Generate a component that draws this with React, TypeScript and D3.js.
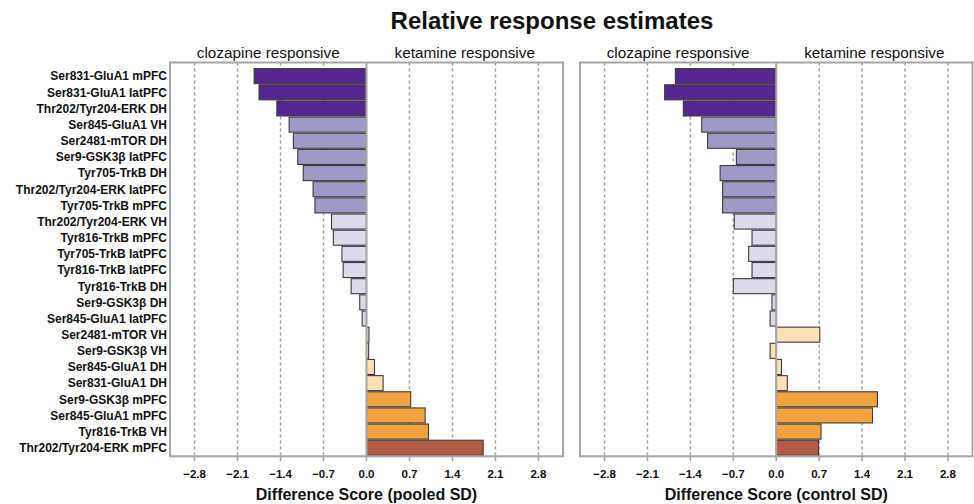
import React from "react";
import * as d3 from "d3";

const W = 974, H = 504;

const LABELS = [
  "Ser831-GluA1 mPFC", "Ser831-GluA1 latPFC", "Thr202/Tyr204-ERK DH", "Ser845-GluA1 VH",
  "Ser2481-mTOR DH", "Ser9-GSK3β latPFC", "Tyr705-TrkB DH", "Thr202/Tyr204-ERK latPFC",
  "Tyr705-TrkB mPFC", "Thr202/Tyr204-ERK VH", "Tyr816-TrkB mPFC", "Tyr705-TrkB latPFC",
  "Tyr816-TrkB latPFC", "Tyr816-TrkB DH", "Ser9-GSK3β DH", "Ser845-GluA1 latPFC",
  "Ser2481-mTOR VH", "Ser9-GSK3β VH", "Ser845-GluA1 DH", "Ser831-GluA1 DH",
  "Ser9-GSK3β mPFC", "Ser845-GluA1 mPFC", "Tyr816-TrkB VH", "Thr202/Tyr204-ERK mPFC",
];

// colour group per row (0 = strong clozapine ... 5 = strong ketamine)
const GROUPS = [0, 0, 0, 1, 1, 1, 1, 1, 1, 2, 2, 2, 2, 2, 2, 2, 3, 3, 3, 3, 4, 4, 4, 5];

const POOLED = [
  -1.83, -1.75, -1.46, -1.26, -1.19, -1.12, -1.03, -0.87, -0.84, -0.57, -0.54, -0.40,
  -0.38, -0.25, -0.11, -0.07, 0.04, 0.035, 0.13, 0.27, 0.72, 0.955, 1.01, 1.90,
];

const CONTROL = [
  -1.645, -1.82, -1.515, -1.215, -1.12, -0.65, -0.915, -0.875, -0.875, -0.685, -0.395, -0.45,
  -0.395, -0.70, -0.07, -0.10, 0.71, -0.10, 0.085, 0.18, 1.65, 1.57, 0.73, 0.69,
];

const TICKS = [-2.8, -2.1, -1.4, -0.7, 0.0, 0.7, 1.4, 2.1, 2.8];

const COLORS = ["#54278f", "#9e9ac8", "#dadaeb", "#fde0b6", "#f0a33f", "#b35a44"];

const C = { frame: "#a6a6a6", grid: "#a0a0a0", text: "#111", stroke: "#3c3c3c" };

const FONT = "Arial, 'Liberation Sans', Helvetica, sans-serif";

const TOP = 62.5, BOTTOM = 456.3;

const y = d3.scaleBand<string>().domain(LABELS).range([68.3, 455.6]).paddingInner(0.07).paddingOuter(0.02);

type PanelProps = { x0: number; x1: number; values: number[]; title: string };

function Panel({ x0, x1, values, title }: PanelProps) {
  const x = d3.scaleLinear().domain([-3.2, 3.2]).range([x0, x1]);
  const zero = x(0);
  const fmt = d3.format(".1f");
  return (
    <g>
      {/* grid */}
      {TICKS.filter(t => t !== 0).map(t => (
        <line key={t} x1={x(t)} x2={x(t)} y1={TOP} y2={BOTTOM}
          stroke={C.grid} strokeWidth={1.5} strokeDasharray="3,3" />
      ))}
      {/* bars */}
      {values.map((v, i) => (
        <rect key={LABELS[i]}
          x={Math.min(x(v), zero)} width={Math.abs(x(v) - zero)}
          y={y(LABELS[i])!} height={y.bandwidth()}
          fill={COLORS[GROUPS[i]]} stroke={C.stroke} strokeWidth={1.1} />
      ))}
      {/* zero line */}
      <line x1={zero} x2={zero} y1={TOP} y2={BOTTOM} stroke={C.frame} strokeWidth={2} />
      {/* frame */}
      <rect x={x0} y={TOP} width={x1 - x0} height={BOTTOM - TOP} fill="none" stroke={C.frame} strokeWidth={2} />
      {/* ticks */}
      {TICKS.map(t => (
        <g key={"t" + t}>
          <line x1={x(t)} x2={x(t)} y1={BOTTOM} y2={BOTTOM + 5} stroke={C.frame} strokeWidth={1.5} />
          <text x={x(t)} y={477.5} textAnchor="middle" fontSize={11.5} fontWeight="bold" fill={C.text}>{fmt(t)}</text>
        </g>
      ))}
      {/* headers */}
      <text x={(x0 + zero) / 2} y={58} textAnchor="middle" fontSize={15.3} fill={C.text}>clozapine responsive</text>
      <text x={(zero + x1) / 2} y={58} textAnchor="middle" fontSize={15.3} fill={C.text}>ketamine responsive</text>
      <text x={zero} y={499.5} textAnchor="middle" fontSize={16} fontWeight="bold" fill={C.text}>{title}</text>
    </g>
  );
}

export default function App() {
  return (
    <div style={{ position: "absolute", left: 0, top: 0, width: W, height: H, background: "#fff" }}>
      <svg width={W} height={H} style={{ display: "block", fontFamily: FONT }}>
        <rect width={W} height={H} fill="#fff" />
        <text x={552} y={29} textAnchor="middle" fontSize={24} fontWeight="bold" fill={C.text}>
          Relative response estimates
        </text>
        {LABELS.map(l => (
          <text key={l} x={167} y={y(l)! + y.bandwidth() / 2} dy="0.36em" textAnchor="end"
            fontSize={12} fontWeight="bold" fill={C.text}>{l}</text>
        ))}
        <Panel x0={170} x1={563} values={POOLED} title="Difference Score (pooled SD)" />
        <Panel x0={580} x1={972.5} values={CONTROL} title="Difference Score (control SD)" />
      </svg>
    </div>
  );
}
